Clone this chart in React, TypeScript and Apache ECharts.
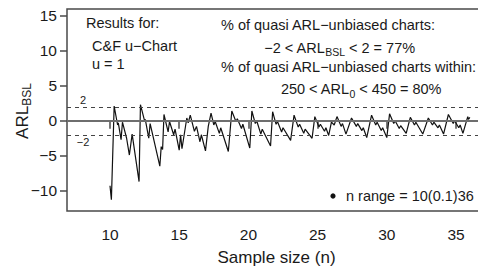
import React, { useEffect, useRef } from "react";
import * as echarts from "echarts";

const xTicks = [10, 15, 20, 25, 30, 35];
const yTicks = [-10, -5, 0, 5, 10, 15];
const zeroLine = 0;
const bandLines = [2, -2];

// vertices of the ARL_BSL curve (n, ARL_BSL)
const arlCurve: [number, number][] = [
  [10.0, -9.3], [10.1, -11.3], [10.3, 2.1], [10.55, -0.6], [10.6, -0.3], [10.8, -2.7], [10.9, -0.2],
  [11.2, -2.5], [11.4, -4.9], [11.6, -1.9], [12.1, -8.7], [12.2, 2.3], [12.5, 0.0], [12.55, 0.2],
  [12.8, -2.5], [12.9, -0.4], [13.6, -6.5], [13.7, -3.7], [13.8, -4.1], [13.9, 0.9], [14.2, -1.6],
  [14.3, -0.1], [14.6, -2.0], [14.7, -1.2], [15.0, -4.2], [15.1, -2.0], [15.2, -4.0], [15.55, 0.4],
  [15.65, -0.3], [15.8, 0.8], [16.1, -1.5], [16.25, -0.8], [16.5, -3.0], [16.6, -2.0], [16.9, -4.3],
  [17.1, -0.8], [17.3, 1.1], [17.5, -0.6], [17.6, -0.1], [17.9, -1.8], [18.0, -1.0], [18.55, -4.4],
  [18.8, 1.4], [19.1, -0.1], [19.2, 0.3], [19.5, -1.1], [19.6, -0.5], [20.1, -3.9], [20.25, 1.4],
  [20.5, -0.4], [20.6, 0.0], [20.9, -1.9], [21.0, -1.2], [21.6, -3.6], [21.75, 1.3], [22.0, -0.5],
  [22.1, -0.1], [22.4, -1.6], [22.5, -1.0], [23.05, -2.8], [23.3, 0.8], [23.6, -0.9], [23.7, -0.5],
  [24.0, -1.8], [24.1, -1.2], [24.6, -2.5], [24.8, 0.6], [25.1, -0.9], [25.2, -0.5], [25.5, -1.5],
  [25.6, -1.0], [25.8, -2.1], [26.0, -0.2], [26.2, -0.6], [26.4, 0.6], [26.7, -0.8], [26.8, -0.4],
  [27.05, -1.9], [27.45, 0.4], [27.8, -0.8], [27.9, -0.4], [28.2, -1.4], [28.3, -1.0], [28.55, -2.4],
  [28.9, 0.8], [29.2, -0.6], [29.3, -0.2], [29.6, -1.4], [29.7, -1.0], [30.0, -2.4], [30.2, 1.0],
  [30.5, -0.4], [30.6, 0.0], [30.9, -1.1], [31.0, -0.7], [31.4, -1.8], [31.7, 0.5], [32.0, -0.6],
  [32.1, -0.2], [32.6, -1.9], [33.0, 0.4], [33.3, -0.6], [33.4, -0.2], [33.7, -1.0], [33.8, -0.6],
  [34.1, -1.9], [34.45, 0.9], [34.8, -0.4], [34.9, 0.0], [35.2, -1.0], [35.3, -0.6], [35.5, -1.8],
  [35.85, 0.6], [35.9, 0.2], [36.0, 0.5],
];

const FONT = "'Liberation Sans', Arial, Helvetica, sans-serif";
const TXT = "#1a1a1a";

export default function App() {
  const ref = useRef<HTMLDivElement>(null);
  useEffect(() => {
    if (!ref.current) return;
    const chart = echarts.init(ref.current, undefined, { renderer: "svg" });
    const t = (x: number, y: number, text: string, extra: any = {}) => ({
      type: "text",
      x,
      y,
      silent: true,
      style: {
        text,
        fill: TXT,
        fontFamily: FONT,
        fontSize: 14.5,
        align: "left",
        verticalAlign: "middle",
        ...extra,
      },
    });
    const sub = {
      n: { fontSize: 14.5, fontFamily: FONT, fill: TXT },
      s: { fontSize: 10.5, fontFamily: FONT, fill: TXT, padding: [9, 0, 0, 0] },
    };
    chart.setOption({
      animation: false,
      grid: {
        left: 67,
        top: 9,
        width: 425,
        height: 202,
        containLabel: false,
        outerBoundsMode: "none",
        show: true,
        borderColor: "#4a4a4a",
        borderWidth: 1.5,
        backgroundColor: "transparent",
      },
      xAxis: {
        type: "value",
        min: 6.893,
        max: 37.601,
        axisLine: { show: false },
        splitLine: { show: false },
        axisTick: {
          show: true,
          length: 8,
          lineStyle: { color: "#4a4a4a", width: 1.5 },
          customValues: xTicks,
        },
        axisLabel: {
          customValues: xTicks,
          margin: 15,
          fontSize: 15.5,
          fontFamily: FONT,
          color: TXT,
        },
      },
      yAxis: {
        type: "value",
        min: -12.91,
        max: 16.0,
        axisLine: { show: false },
        splitLine: { show: false },
        axisTick: {
          show: true,
          length: 7,
          lineStyle: { color: "#4a4a4a", width: 1.5 },
          customValues: yTicks,
        },
        axisLabel: {
          customValues: yTicks,
          margin: 10,
          fontSize: 15.5,
          fontFamily: FONT,
          color: TXT,
          formatter: (v: number) => (v < 0 ? "\u2212" + Math.abs(v) : String(v)),
        },
      },
      series: [
        {
          type: "line",
          data: arlCurve,
          showSymbol: false,
          symbol: "none",
          lineStyle: { color: "#111", width: 1.2 },
          markLine: {
            silent: true,
            symbol: ["none", "none"],
            label: { show: false },
            data: [
              { yAxis: zeroLine, lineStyle: { color: "#6e6e6e", width: 2, type: "solid" } },
              ...bandLines.map((v) => ({
                yAxis: v,
                lineStyle: { color: "#444", width: 1.2, type: [4, 4] },
              })),
            ],
          },
        },
      ],
      graphic: [
        t(86, 22.7, "Results for:"),
        t(92, 46, "C&F u\u2212Chart"),
        t(92, 63.5, "u = 1"),
        t(221, 24.5, "% of quasi ARL\u2212unbiased charts:"),
        t(339.5, 47.5, "{n|\u22122 < ARL}{s|BSL}{n| < 2 = 77%}", { align: "center", rich: sub }),
        t(221, 66.7, "% of quasi ARL\u2212unbiased charts within:"),
        t(361, 89, "{n|250 < ARL}{s|0}{n| < 450 = 80%}", { align: "center", rich: sub }),
        t(83, 100, String(bandLines[0]), { align: "center", fontSize: 11 }),
        t(83, 141.5, "\u2212" + Math.abs(bandLines[1]), { align: "center", fontSize: 11 }),
        {
          type: "circle",
          silent: true,
          shape: { cx: 333, cy: 196, r: 2.6 },
          style: { fill: "#111" },
        },
        t(346, 196, "n range = 10(0.1)36"),
        t(276.5, 257, "Sample size (n)", { align: "center", fontSize: 17 }),
        {
          type: "text",
          x: 22,
          y: 111,
          rotation: Math.PI / 2,
          silent: true,
          style: {
            text: "{a|ARL}{b|BSL}",
            align: "center",
            verticalAlign: "middle",
            fill: TXT,
            fontFamily: FONT,
            rich: {
              a: { fontSize: 17, fontFamily: FONT, fill: TXT },
              b: { fontSize: 12, fontFamily: FONT, fill: TXT, padding: [10, 0, 0, 0] },
            },
          },
        },
      ],
    });
    return () => chart.dispose();
  }, []);
  return (
    <div
      ref={ref}
      style={{ position: "absolute", left: 0, top: 0, width: 478, height: 267 }}
    />
  );
}
